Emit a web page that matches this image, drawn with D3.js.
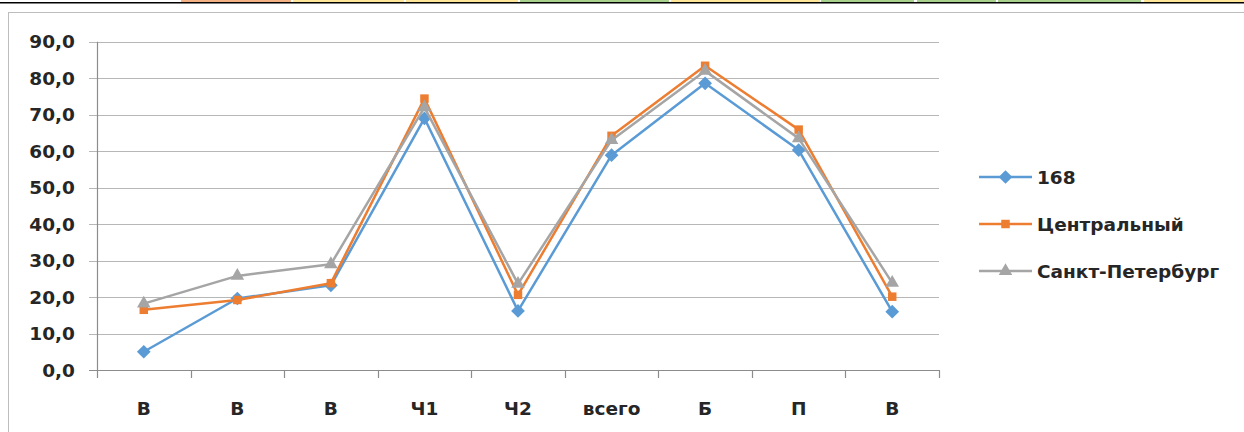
<!DOCTYPE html>
<html><head><meta charset="utf-8">
<script src="https://cdn.jsdelivr.net/npm/d3@7"></script>
<style>body{margin:0;background:#fff;}svg{display:block;}</style>
</head><body>
<svg id="c" width="1244" height="432"></svg>
<script>
const categories = ["В","В","В","Ч1","Ч2","всего","Б","П","В"];
const seriesNames = ["168","Центральный","Санкт-Петербург"];
const s168 = [5.0, 19.6, 23.2, 69.0, 16.2, 58.9, 78.6, 60.3, 16.0];
const sCentral = [16.5, 19.2, 23.8, 74.4, 20.6, 64.2, 83.4, 65.9, 20.1];
const sSpb = [18.2, 25.8, 29.0, 72.0, 23.6, 63.0, 82.0, 63.5, 23.9];
const yTicks = [0,10,20,30,40,50,60,70,80,90];
const colors = ["#5B9BD5","#ED7D31","#A5A5A5"];
const shapes = [d3.symbolDiamond2 || d3.symbolDiamond, d3.symbolSquare, d3.symbolTriangle];
const seriesValues = [s168, sCentral, sSpb];

const svg = d3.select("#c");
const FONT = "'DejaVu Sans', sans-serif";
const FS = 18.5;

// top table strip
const cellColors = [[181,291,"#F4B183"],[293,404,"#FFE699"],[406,518,"#FFE699"],[520,669,"#A9D18E"],[671,820,"#FFE699"],[821,914,"#A9D18E"],[917,996,"#A9D18E"],[998,1141,"#A9D18E"],[1144,1244,"#FFE699"]];
cellColors.forEach(c=>svg.append("rect").attr("x",c[0]).attr("y",0).attr("width",c[1]-c[0]).attr("height",2).attr("fill",c[2]));
svg.append("rect").attr("x",0).attr("y",2).attr("width",1244).attr("height",1.5).attr("fill","#000");

// chart box
svg.append("rect").attr("x",8.5).attr("y",12.5).attr("width",1240).attr("height",430)
  .attr("fill","#fff").attr("stroke","#bdbdbd").attr("stroke-width",1);

const x = d3.scaleBand().domain(d3.range(categories.length)).range([97,939]);
const y = d3.scaleLinear().domain([0,90]).range([370,41.7]);

// gridlines
svg.append("g").selectAll("line").data(yTicks).join("line")
  .attr("x1",89).attr("x2",939)
  .attr("y1",d=>Math.round(y(d))+0.5).attr("y2",d=>Math.round(y(d))+0.5)
  .attr("stroke",d=>d===0?"#8c8c8c":"#b7b7b7").attr("stroke-width",1.2);

// y axis line
svg.append("line").attr("x1",97.5).attr("x2",97.5).attr("y1",y(90)).attr("y2",378).attr("stroke","#8c8c8c").attr("stroke-width",1.2);
// x ticks
svg.append("g").selectAll("line").data(d3.range(1,categories.length+1)).join("line")
  .attr("x1",i=>Math.round(97+i*x.step())+0.5).attr("x2",i=>Math.round(97+i*x.step())+0.5)
  .attr("y1",370).attr("y2",378).attr("stroke","#8c8c8c").attr("stroke-width",1.2);

// y labels
svg.append("g").selectAll("text").data(yTicks).join("text")
  .attr("x",75).attr("y",d=>y(d)).attr("dy","0.36em").attr("text-anchor","end")
  .attr("font-family",FONT).attr("font-weight","bold").attr("font-size",FS).attr("fill","#262626")
  .text(d=>d3.format(".1f")(d).replace(".",","));

// x labels
svg.append("g").selectAll("text").data(categories).join("text")
  .attr("x",(d,i)=>x(i)+x.bandwidth()/2).attr("y",415).attr("text-anchor","middle")
  .attr("font-family",FONT).attr("font-weight","bold").attr("font-size",FS).attr("fill","#262626")
  .text(d=>d);

// lines
const line = d3.line().x((d,i)=>x(i)+x.bandwidth()/2).y(d=>y(d));
const symSize = [120,72,80];
seriesValues.forEach((vals,k)=>{
  svg.append("path").datum(vals).attr("d",line).attr("fill","none")
    .attr("stroke",colors[k]).attr("stroke-width",2.5).attr("stroke-linejoin","round");
  svg.append("g").selectAll("path").data(vals).join("path")
    .attr("transform",(d,i)=>`translate(${x(i)+x.bandwidth()/2},${y(d)})`)
    .attr("d",d3.symbol().type(shapes[k]).size(symSize[k])).attr("fill",colors[k]);
});

// legend
const legY = [177,224,271];
seriesNames.forEach((n,k)=>{
  const lg = svg.append("g");
  lg.append("line").attr("x1",979).attr("x2",1032).attr("y1",legY[k]).attr("y2",legY[k]).attr("stroke",colors[k]).attr("stroke-width",2.5);
  lg.append("path").attr("transform",`translate(1005.5,${legY[k]})`).attr("d",d3.symbol().type(shapes[k]).size(symSize[k])).attr("fill",colors[k]);
  lg.append("text").attr("x",1037).attr("y",legY[k]).attr("dy","0.36em")
    .attr("font-family",FONT).attr("font-weight","bold").attr("font-size",FS).attr("fill","#262626").text(n);
});
</script>
</body></html>
